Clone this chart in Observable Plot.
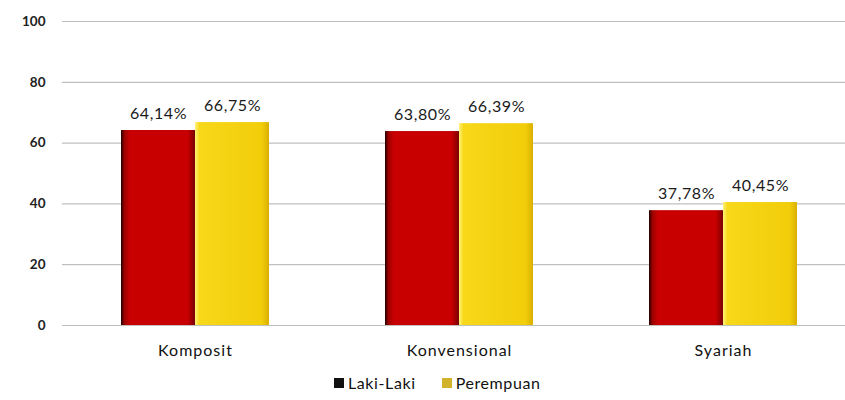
<!DOCTYPE html>
<html>
<head>
<meta charset="utf-8">
<script src="https://cdn.jsdelivr.net/npm/d3@7"></script>
<script src="https://cdn.jsdelivr.net/npm/@observablehq/plot@0.6"></script>
<style>
  html, body { margin: 0; padding: 0; background: #fff; }
  body { width: 845px; height: 400px; overflow: hidden; font-family: Lato, "Open Sans", sans-serif; }
  #legend { position: absolute; left: 334px; top: 373px; display: flex; align-items: center; font-size: 16px; letter-spacing: 0.6px; color: #111; font-family: Lato, sans-serif; }
  #legend .sw { display: inline-block; width: 10px; height: 10px; margin-right: 4px; }
  #legend .item { display: flex; align-items: center; margin-right: 26px; }
  svg .xlab text { letter-spacing: 1px; }
  svg .vlab text { letter-spacing: 0.6px; }
</style>
</head>
<body>
<div id="chart"></div>
<div id="legend"></div>
<script>
const categories = ["Komposit", "Konvensional", "Syariah"];
const series = ["Laki-Laki", "Perempuan"];
const lakiLaki = [64.14, 63.80, 37.78];
const perempuan = [66.75, 66.39, 40.45];
const labelsLaki = ["64,14%", "63,80%", "37,78%"];
const labelsPerempuan = ["66,75%", "66,39%", "40,45%"];
const yTicks = [0, 20, 40, 60, 80, 100];

const dataLaki = categories.map((c, i) => ({category: c, series: series[0], value: lakiLaki[i], label: labelsLaki[i]}));
const dataPerempuan = categories.map((c, i) => ({category: c, series: series[1], value: perempuan[i], label: labelsPerempuan[i]}));

const half = 74; // half of the band width in px (pair of bars)

const chart = Plot.plot({
  width: 845,
  height: 368,
  marginLeft: 62,
  marginRight: 0,
  marginTop: 21,
  marginBottom: 43,
  style: {fontFamily: "Lato, 'Open Sans', sans-serif", background: "#fff", overflow: "visible"},
  x: {domain: categories, range: [62, 856], paddingInner: 0.44, paddingOuter: 0.22, label: null},
  y: {domain: [0, 100], ticks: yTicks, label: null},
  marks: [
    Plot.ruleY(yTicks, {stroke: "#bfbfbf", strokeWidth: 1.2}),
    Plot.axisY({ticks: yTicks, tickSize: 0, tickPadding: 17, fontSize: 13.5, fontWeight: "bold", fill: "#222", label: null}),
    Plot.axisX({tickSize: 0, tickPadding: 19, fontSize: 16, fill: "#111", label: null, className: "xlab"}),
    Plot.barY(dataLaki, {x: "category", y: "value", fill: "url(#gradRed)", insetRight: half}),
    Plot.barY(dataPerempuan, {x: "category", y: "value", fill: "url(#gradYellow)", insetLeft: half}),
    Plot.text(dataLaki, {x: "category", y: "value", text: "label", dx: -half / 2, dy: -17, fontSize: 16, fill: "#1a1a1a", className: "vlab"}),
    Plot.text(dataPerempuan, {x: "category", y: "value", text: "label", dx: half / 2, dy: -17, fontSize: 16, fill: "#1a1a1a", className: "vlab"})
  ]
});

// gradients for the bars
const svg = d3.select(chart);
const defs = svg.insert("defs", ":first-child");
const gr = defs.append("linearGradient").attr("id", "gradRed").attr("x1", "0").attr("x2", "1").attr("y1", "0").attr("y2", "0");
gr.append("stop").attr("offset", "0").attr("stop-color", "#2a0000");
gr.append("stop").attr("offset", "0.05").attr("stop-color", "#a00000");
gr.append("stop").attr("offset", "0.12").attr("stop-color", "#c80000");
gr.append("stop").attr("offset", "0.9").attr("stop-color", "#c80000");
gr.append("stop").attr("offset", "1").attr("stop-color", "#7a0000");
const gy = defs.append("linearGradient").attr("id", "gradYellow").attr("x1", "0").attr("x2", "1").attr("y1", "0").attr("y2", "0");
gy.append("stop").attr("offset", "0").attr("stop-color", "#fff27a");
gy.append("stop").attr("offset", "0.06").attr("stop-color", "#f7d81a");
gy.append("stop").attr("offset", "0.9").attr("stop-color", "#f2cd0a");
gy.append("stop").attr("offset", "1").attr("stop-color", "#d9b000");

document.getElementById("chart").appendChild(chart);

const legendColors = ["#111", "#d1b22a"];
const legend = document.getElementById("legend");
series.forEach((s, i) => {
  const item = document.createElement("span");
  item.className = "item";
  const sw = document.createElement("span");
  sw.className = "sw";
  sw.style.background = legendColors[i];
  item.appendChild(sw);
  item.appendChild(document.createTextNode(s));
  legend.appendChild(item);
});
</script>
</body>
</html>
